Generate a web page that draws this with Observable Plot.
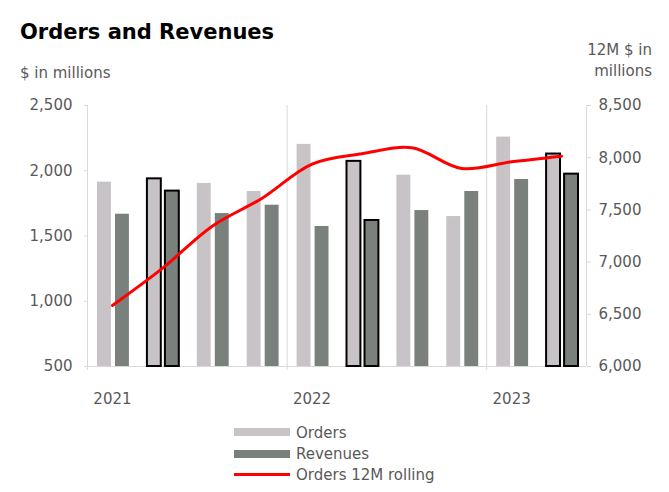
<!DOCTYPE html>
<html>
<head>
<meta charset="utf-8">
<script src="https://cdn.jsdelivr.net/npm/d3@7"></script>
<script src="https://cdn.jsdelivr.net/npm/@observablehq/plot@0.6"></script>
<style>
  html, body { margin: 0; padding: 0; background: #fff; }
  #wrap { position: relative; width: 669px; height: 492px; font-family: "DejaVu Sans", sans-serif; color: #595959; }
  .abs { position: absolute; white-space: nowrap; }
  #title { left: 20px; top: 22px; font-size: 21px; line-height: 21px; font-weight: bold; color: #000; }
  #subtitle { left: 20px; top: 66px; font-size: 15px; line-height: 15px; }
  #rlabel { right: 17px; top: 40px; font-size: 15px; line-height: 21px; text-align: right; }
  #chart { left: 0; top: 85px; }
  .lg { position: absolute; left: 234px; }
  .lgtext { position: absolute; left: 296px; font-size: 15px; line-height: 21px; white-space: nowrap; }
</style>
</head>
<body>
<div id="wrap">
  <div id="title" class="abs">Orders and Revenues</div>
  <div id="subtitle" class="abs">$ in millions</div>
  <div id="rlabel" class="abs">12M $ in<br>millions</div>
  <div id="chart" class="abs"></div>
  <div id="legend"></div>
</div>
<script>
const quarters = ["Q1 2021","Q2 2021","Q3 2021","Q4 2021","Q1 2022","Q2 2022","Q3 2022","Q4 2022","Q1 2023","Q2 2023"];
const orders   = [1913, 1938, 1903, 1841, 2202, 2072, 1966, 1649, 2258, 2128];
const revenues = [1667, 1844, 1672, 1736, 1573, 1619, 1695, 1841, 1933, 1974];
const rolling  = [6585, 6940, 7344, 7612, 7939, 8038, 8095, 7897, 7961, 8015];
const highlighted = ["Q2 2021","Q2 2022","Q2 2023"];
const years = ["2021","2022","2023"];
const leftTicks = [500, 1000, 1500, 2000, 2500];
const rightTicks = [6000, 6500, 7000, 7500, 8000, 8500];
const seriesNames = ["Orders", "Revenues", "Orders 12M rolling"];
const colors = { orders: "#c8c3c6", revenues: "#7a807b", line: "#ff0000", grid: "#d9d9d9", text: "#595959" };

// map right-axis values onto the left scale
const toLeft = v => 500 + (v - 6000) * (2000 / 2500);
const toRight = d => 6000 + (d - 500) * (2500 / 2000);
const fmt = d3.format(",");

const data = quarters.map((q, i) => ({
  q, i, orders: orders[i], revenues: revenues[i], rolling: rolling[i],
  hl: highlighted.includes(q)
}));
const yearStarts = years.map(y => quarters.findIndex(q => q.endsWith(y)));

const plot = Plot.plot({
  width: 669,
  height: 330,
  marginLeft: 87,
  marginRight: 83,
  marginTop: 20,
  marginBottom: 49,
  style: { fontFamily: "DejaVu Sans, sans-serif", fontSize: "15px", color: colors.text, background: "transparent" },
  x: { type: "linear", domain: [0, quarters.length], axis: null },
  y: { domain: [500, 2500], axis: null },
  marks: [
    Plot.ruleX(yearStarts, { stroke: colors.grid, insetBottom: -4 }),
    Plot.ruleX([quarters.length], { stroke: colors.grid }),
    Plot.ruleY([500], { stroke: colors.grid }),
    Plot.axisY(leftTicks, { anchor: "left", tickSize: 3, tickPadding: 12, tickFormat: fmt, stroke: colors.grid, fill: colors.text, label: null, fontSize: 15 }),
    Plot.axisY(rightTicks.map(toLeft), { anchor: "right", tickSize: 4, tickPadding: 8, tickFormat: d => fmt(Math.round(toRight(d))), stroke: colors.grid, fill: colors.text, label: null, fontSize: 15 }),
    Plot.rect(data, { x1: "i", x2: d => d.i + 1, y1: 500, y2: "orders", fill: colors.orders, insetLeft: 10, insetRight: 26 }),
    Plot.rect(data, { x1: "i", x2: d => d.i + 1, y1: 500, y2: "revenues", fill: colors.revenues, insetLeft: 28, insetRight: 8 }),
    Plot.rect(data.filter(d => d.hl), { x1: "i", x2: d => d.i + 1, y1: 500, y2: "orders", fill: "none", stroke: "#000", strokeWidth: 2, insetLeft: 10, insetRight: 26 }),
    Plot.rect(data.filter(d => d.hl), { x1: "i", x2: d => d.i + 1, y1: 500, y2: "revenues", fill: "none", stroke: "#000", strokeWidth: 2, insetLeft: 28, insetRight: 8 }),
    Plot.line(data, { x: d => d.i + 0.5, y: d => toLeft(d.rolling), stroke: colors.line, strokeWidth: 3, curve: "catmull-rom" }),
    Plot.text(years, { x: (y, k) => yearStarts[k] + 0.5, frameAnchor: "bottom", dy: 37, fill: colors.text, fontSize: 15 })
  ]
});
document.getElementById("chart").appendChild(plot);

// legend
const legend = document.getElementById("legend");
const rows = [
  { name: seriesNames[0], top: 428, h: 8, color: colors.orders, textTop: 423 },
  { name: seriesNames[1], top: 450, h: 8, color: colors.revenues, textTop: 444 },
  { name: seriesNames[2], top: 473, h: 3, color: colors.line, textTop: 465 }
];
rows.forEach(r => {
  const sw = document.createElement("div");
  sw.className = "lg";
  sw.style.top = r.top + "px";
  sw.style.width = "56px";
  sw.style.height = r.h + "px";
  sw.style.background = r.color;
  legend.appendChild(sw);
  const t = document.createElement("div");
  t.className = "lgtext";
  t.style.top = r.textTop + "px";
  t.textContent = r.name;
  legend.appendChild(t);
});
</script>
</body>
</html>
